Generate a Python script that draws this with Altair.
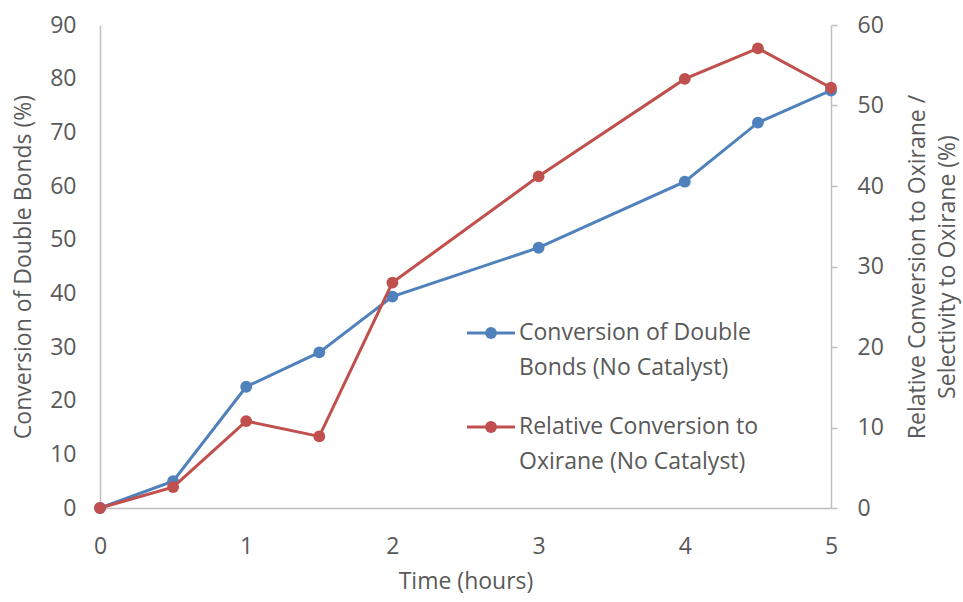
import altair as alt
import pandas as pd

time_h = [0, 0.5, 1, 1.5, 2, 3, 4, 4.5, 5]
conv_double = [0, 5.0, 22.6, 29.0, 39.4, 48.5, 60.8, 71.8, 77.8]
rel_oxirane = [0, 2.6, 10.8, 8.9, 28.0, 41.2, 53.3, 57.1, 52.2]

BLUE = "#4f81bd"
RED = "#c0504d"
FONT = "Open Sans"
FS = 23
GREY = "#595959"
AX = "#bfbfbf"
MS = 140

df = pd.DataFrame({"t": time_h, "a": conv_double, "b": rel_oxirane})

x = alt.X("t:Q", scale=alt.Scale(domain=[0, 5], nice=False),
          axis=alt.Axis(title="Time (hours)", values=[0, 1, 2, 3, 4, 5], ticks=False,
                        grid=False, domainColor=AX, domainWidth=1.5, labelPadding=27,
                        labelFlush=False, titlePadding=12, format="d"))

left = alt.Chart(df).mark_line(color=BLUE, strokeWidth=3, point=alt.OverlayMarkDef(
    color=BLUE, size=MS, filled=True, opacity=1)).encode(
    x=x,
    y=alt.Y("a:Q", scale=alt.Scale(domain=[0, 90], nice=False),
            axis=alt.Axis(title="Conversion of Double Bonds (%)", orient="left",
                          values=list(range(0, 91, 10)), ticks=False, grid=False,
                          labelFlush=False,
                          domainColor=AX, domainWidth=1.5, labelPadding=24, titlePadding=14)))

right = alt.Chart(df).mark_line(color=RED, strokeWidth=3, point=alt.OverlayMarkDef(
    color=RED, size=MS, filled=True, opacity=1)).encode(
    x=x,
    y=alt.Y("b:Q", scale=alt.Scale(domain=[0, 60], nice=False),
            axis=alt.Axis(title=["Relative Conversion to Oxirane /", "Selectivity to Oxirane (%)"],
                          orient="right", values=list(range(0, 61, 10)), ticks=True,
                          tickSize=6, tickColor=AX, tickWidth=1.5, grid=False,
                          labelFlush=False,
                          domainColor=AX, domainWidth=1.5, labelPadding=20,
                          titlePadding=16, titleAngle=270, titleBaseline="bottom",
                          titleLineHeight=30)))

leg_df = pd.DataFrame({
    "txt": ["Conversion of Double", "Bonds (No Catalyst)", "Relative Conversion to", "Oxirane (No Catalyst)"],
    "yy": [333 - 25, 368 - 25, 427 - 25, 462 - 25],
})
ly = [333 - 25, 427 - 25]

legend_layers = []
for i, col in enumerate([BLUE, RED]):
    yv = ly[i]
    legend_layers.append(alt.Chart(df.head(1)).mark_rule(color=col, strokeWidth=3).encode(
        x=alt.value(467 - 100), x2=alt.value(515 - 100), y=alt.value(yv)))
    legend_layers.append(alt.Chart(df.head(1)).mark_point(color=col, filled=True, size=MS, opacity=1).encode(
        x=alt.value(491 - 100), y=alt.value(yv)))

leg_text = alt.Chart(leg_df).mark_text(align="left", baseline="middle", font=FONT, fontSize=FS,
                                       color=GREY).encode(
    x=alt.value(519 - 100), y=alt.Y("yy:Q", scale=None), text="txt:N")

lines = alt.layer(left, right).resolve_scale(y="independent")
chart = alt.layer(lines, *legend_layers, leg_text).resolve_scale(y="independent").properties(
    width=731, height=483,
    autosize=alt.AutoSizeParams(type="none"),
    padding={"left": 100, "top": 25, "right": 132, "bottom": 94},
    background="white",
).configure_view(stroke=None).configure_axis(
    labelFont=FONT, titleFont=FONT, labelFontSize=FS, titleFontSize=FS,
    labelColor=GREY, titleColor=GREY, titleFontWeight="normal")

chart.save("out.html", embed_options={"renderer": "svg", "actions": False})
